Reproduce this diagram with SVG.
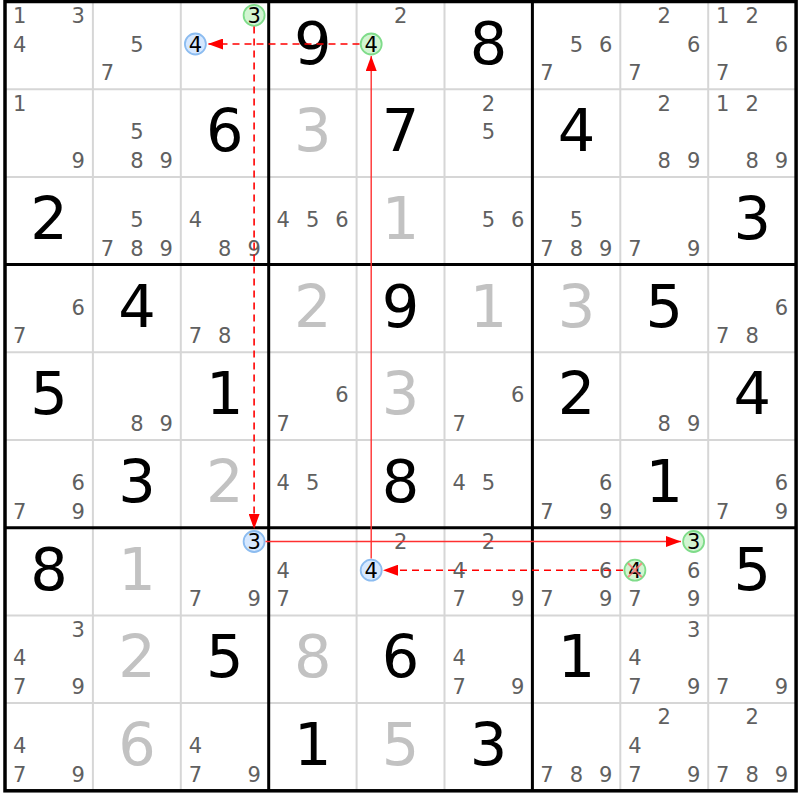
<svg xmlns="http://www.w3.org/2000/svg" width="800" height="800" viewBox="0 0 800 800">
<style>
text{font-family:"DejaVu Sans","Liberation Sans",sans-serif;text-anchor:middle}
.c{font-size:21px;fill:#606060}
.h{font-size:21px;fill:#000}
.g{font-size:59px;fill:#000}
.s{font-size:59px;fill:#c2c2c2}
.thin{stroke:#d6d6d6;stroke-width:2}
.thick{stroke:#000;stroke-width:3}
.hg{fill:#d2f5d2;stroke:#7fdc8a;stroke-width:1.8}
.hb{fill:#d6e8ff;stroke:#8cbcf0;stroke-width:1.8}
.x{stroke:#ff6b6b;stroke-width:2;stroke-opacity:0.75}
.dash{stroke:#ff0000;stroke-width:1.6;stroke-dasharray:7 5;fill:none}
.sol{stroke:#ff3030;stroke-width:1.4;fill:none}
</style>
<defs>
<marker id="ah" markerUnits="userSpaceOnUse" markerWidth="15" markerHeight="11" refX="15" refY="5.5" orient="auto">
<path d="M0,0 L15,5.5 L0,11 z" fill="#ff0000"/>
</marker>
</defs>
<rect width="800" height="800" fill="#fff"/>
<g id="grid">
<path class="thin" d="M92.9,1.5V790.8M180.8,1.5V790.8M356.6,1.5V790.8M444.5,1.5V790.8M620.3,1.5V790.8M708.2,1.5V790.8M5,89.2H796.1M5,176.9H796.1M5,352.3H796.1M5,440H796.1M5,615.4H796.1M5,703.1H796.1"/>
<path class="thick" d="M268.7,1.5V790.8M532.4,1.5V790.8M5,264.6H796.1M5,527.7H796.1"/>
<rect x="5" y="1.5" width="791.1" height="789.3" fill="none" stroke="#000" stroke-width="3.5"/>
</g>
<g id="r1c1"><text class="c" x="19.6" y="22.8">1</text><text class="c" x="78.3" y="22.8">3</text><text class="c" x="19.6" y="51.5">4</text></g>
<g id="r1c2"><text class="c" x="136.9" y="51.5">5</text><text class="c" x="107.5" y="80.2">7</text></g>
<g id="r1c3"><circle class="hg" cx="254.1" cy="15.3" r="10.5"/><circle class="hb" cx="195.4" cy="44" r="10.5"/><text class="h" x="254.1" y="22.8">3</text><text class="h" x="195.4" y="51.5">4</text></g>
<g id="r1c4"><text class="g" x="312.7" y="63.5">9</text></g>
<g id="r1c5"><circle class="hg" cx="371.2" cy="44" r="10.5"/><text class="c" x="400.6" y="22.8">2</text><text class="h" x="371.2" y="51.5">4</text></g>
<g id="r1c6"><text class="g" x="488.5" y="63.5">8</text></g>
<g id="r1c7"><text class="c" x="576.4" y="51.5">5</text><text class="c" x="605.7" y="51.5">6</text><text class="c" x="547" y="80.2">7</text></g>
<g id="r1c8"><text class="c" x="664.3" y="22.8">2</text><text class="c" x="693.6" y="51.5">6</text><text class="c" x="634.9" y="80.2">7</text></g>
<g id="r1c9"><text class="c" x="722.8" y="22.8">1</text><text class="c" x="752.2" y="22.8">2</text><text class="c" x="781.5" y="51.5">6</text><text class="c" x="722.8" y="80.2">7</text></g>

<g id="r2c1"><text class="c" x="19.6" y="110.5">1</text><text class="c" x="78.3" y="167.9">9</text></g>
<g id="r2c2"><text class="c" x="136.9" y="139.2">5</text><text class="c" x="136.9" y="167.9">8</text><text class="c" x="166.2" y="167.9">9</text></g>
<g id="r2c3"><text class="g" x="224.8" y="151.2">6</text></g>
<g id="r2c4"><text class="s" x="312.7" y="151.2">3</text></g>
<g id="r2c5"><text class="g" x="400.6" y="151.2">7</text></g>
<g id="r2c6"><text class="c" x="488.5" y="110.5">2</text><text class="c" x="488.5" y="139.2">5</text></g>
<g id="r2c7"><text class="g" x="576.4" y="151.2">4</text></g>
<g id="r2c8"><text class="c" x="664.3" y="110.5">2</text><text class="c" x="664.3" y="167.9">8</text><text class="c" x="693.6" y="167.9">9</text></g>
<g id="r2c9"><text class="c" x="722.8" y="110.5">1</text><text class="c" x="752.2" y="110.5">2</text><text class="c" x="752.2" y="167.9">8</text><text class="c" x="781.5" y="167.9">9</text></g>

<g id="r3c1"><text class="g" x="49" y="238.9">2</text></g>
<g id="r3c2"><text class="c" x="136.9" y="226.9">5</text><text class="c" x="107.5" y="255.6">7</text><text class="c" x="136.9" y="255.6">8</text><text class="c" x="166.2" y="255.6">9</text></g>
<g id="r3c3"><text class="c" x="195.4" y="226.9">4</text><text class="c" x="224.8" y="255.6">8</text><text class="c" x="254.1" y="255.6">9</text></g>
<g id="r3c4"><text class="c" x="283.3" y="226.9">4</text><text class="c" x="312.7" y="226.9">5</text><text class="c" x="342" y="226.9">6</text></g>
<g id="r3c5"><text class="s" x="400.6" y="238.9">1</text></g>
<g id="r3c6"><text class="c" x="488.5" y="226.9">5</text><text class="c" x="517.8" y="226.9">6</text></g>
<g id="r3c7"><text class="c" x="576.4" y="226.9">5</text><text class="c" x="547" y="255.6">7</text><text class="c" x="576.4" y="255.6">8</text><text class="c" x="605.7" y="255.6">9</text></g>
<g id="r3c8"><text class="c" x="634.9" y="255.6">7</text><text class="c" x="693.6" y="255.6">9</text></g>
<g id="r3c9"><text class="g" x="752.2" y="238.9">3</text></g>

<g id="r4c1"><text class="c" x="78.3" y="314.6">6</text><text class="c" x="19.6" y="343.3">7</text></g>
<g id="r4c2"><text class="g" x="136.9" y="326.6">4</text></g>
<g id="r4c3"><text class="c" x="195.4" y="343.3">7</text><text class="c" x="224.8" y="343.3">8</text></g>
<g id="r4c4"><text class="s" x="312.7" y="326.6">2</text></g>
<g id="r4c5"><text class="g" x="400.6" y="326.6">9</text></g>
<g id="r4c6"><text class="s" x="488.5" y="326.6">1</text></g>
<g id="r4c7"><text class="s" x="576.4" y="326.6">3</text></g>
<g id="r4c8"><text class="g" x="664.3" y="326.6">5</text></g>
<g id="r4c9"><text class="c" x="781.5" y="314.6">6</text><text class="c" x="722.8" y="343.3">7</text><text class="c" x="752.2" y="343.3">8</text></g>

<g id="r5c1"><text class="g" x="49" y="414.3">5</text></g>
<g id="r5c2"><text class="c" x="136.9" y="431">8</text><text class="c" x="166.2" y="431">9</text></g>
<g id="r5c3"><text class="g" x="224.8" y="414.3">1</text></g>
<g id="r5c4"><text class="c" x="342" y="402.3">6</text><text class="c" x="283.3" y="431">7</text></g>
<g id="r5c5"><text class="s" x="400.6" y="414.3">3</text></g>
<g id="r5c6"><text class="c" x="517.8" y="402.3">6</text><text class="c" x="459.1" y="431">7</text></g>
<g id="r5c7"><text class="g" x="576.4" y="414.3">2</text></g>
<g id="r5c8"><text class="c" x="664.3" y="431">8</text><text class="c" x="693.6" y="431">9</text></g>
<g id="r5c9"><text class="g" x="752.2" y="414.3">4</text></g>

<g id="r6c1"><text class="c" x="78.3" y="490">6</text><text class="c" x="19.6" y="518.7">7</text><text class="c" x="78.3" y="518.7">9</text></g>
<g id="r6c2"><text class="g" x="136.9" y="502">3</text></g>
<g id="r6c3"><text class="s" x="224.8" y="502">2</text></g>
<g id="r6c4"><text class="c" x="283.3" y="490">4</text><text class="c" x="312.7" y="490">5</text></g>
<g id="r6c5"><text class="g" x="400.6" y="502">8</text></g>
<g id="r6c6"><text class="c" x="459.1" y="490">4</text><text class="c" x="488.5" y="490">5</text></g>
<g id="r6c7"><text class="c" x="605.7" y="490">6</text><text class="c" x="547" y="518.7">7</text><text class="c" x="605.7" y="518.7">9</text></g>
<g id="r6c8"><text class="g" x="664.3" y="502">1</text></g>
<g id="r6c9"><text class="c" x="781.5" y="490">6</text><text class="c" x="722.8" y="518.7">7</text><text class="c" x="781.5" y="518.7">9</text></g>

<g id="r7c1"><text class="g" x="49" y="589.7">8</text></g>
<g id="r7c2"><text class="s" x="136.9" y="589.7">1</text></g>
<g id="r7c3"><circle class="hb" cx="254.1" cy="541.5" r="10.5"/><text class="h" x="254.1" y="549">3</text><text class="c" x="195.4" y="606.4">7</text><text class="c" x="254.1" y="606.4">9</text></g>
<g id="r7c4"><text class="c" x="283.3" y="577.7">4</text><text class="c" x="283.3" y="606.4">7</text></g>
<g id="r7c5"><circle class="hb" cx="371.2" cy="570.2" r="10.5"/><text class="c" x="400.6" y="549">2</text><text class="h" x="371.2" y="577.7">4</text></g>
<g id="r7c6"><text class="c" x="488.5" y="549">2</text><text class="c" x="459.1" y="577.7">4</text><text class="c" x="459.1" y="606.4">7</text><text class="c" x="517.8" y="606.4">9</text></g>
<g id="r7c7"><text class="c" x="605.7" y="577.7">6</text><text class="c" x="547" y="606.4">7</text><text class="c" x="605.7" y="606.4">9</text></g>
<g id="r7c8"><circle class="hg" cx="693.6" cy="541.5" r="10.5"/><circle class="hg" cx="634.9" cy="570.2" r="10.5"/><text class="h" x="693.6" y="549">3</text><text class="h" x="634.9" y="577.7">4</text><text class="c" x="693.6" y="577.7">6</text><text class="c" x="634.9" y="606.4">7</text><text class="c" x="693.6" y="606.4">9</text><path class="x" d="M628,563.3L641.8,577.1M628,577.1L641.8,563.3"/></g>
<g id="r7c9"><text class="g" x="752.2" y="589.7">5</text></g>

<g id="r8c1"><text class="c" x="78.3" y="636.7">3</text><text class="c" x="19.6" y="665.4">4</text><text class="c" x="19.6" y="694.1">7</text><text class="c" x="78.3" y="694.1">9</text></g>
<g id="r8c2"><text class="s" x="136.9" y="677.4">2</text></g>
<g id="r8c3"><text class="g" x="224.8" y="677.4">5</text></g>
<g id="r8c4"><text class="s" x="312.7" y="677.4">8</text></g>
<g id="r8c5"><text class="g" x="400.6" y="677.4">6</text></g>
<g id="r8c6"><text class="c" x="459.1" y="665.4">4</text><text class="c" x="459.1" y="694.1">7</text><text class="c" x="517.8" y="694.1">9</text></g>
<g id="r8c7"><text class="g" x="576.4" y="677.4">1</text></g>
<g id="r8c8"><text class="c" x="693.6" y="636.7">3</text><text class="c" x="634.9" y="665.4">4</text><text class="c" x="634.9" y="694.1">7</text><text class="c" x="693.6" y="694.1">9</text></g>
<g id="r8c9"><text class="c" x="722.8" y="694.1">7</text><text class="c" x="781.5" y="694.1">9</text></g>

<g id="r9c1"><text class="c" x="19.6" y="753.1">4</text><text class="c" x="19.6" y="781.8">7</text><text class="c" x="78.3" y="781.8">9</text></g>
<g id="r9c2"><text class="s" x="136.9" y="765.1">6</text></g>
<g id="r9c3"><text class="c" x="195.4" y="753.1">4</text><text class="c" x="195.4" y="781.8">7</text><text class="c" x="254.1" y="781.8">9</text></g>
<g id="r9c4"><text class="g" x="312.7" y="765.1">1</text></g>
<g id="r9c5"><text class="s" x="400.6" y="765.1">5</text></g>
<g id="r9c6"><text class="g" x="488.5" y="765.1">3</text></g>
<g id="r9c7"><text class="c" x="547" y="781.8">7</text><text class="c" x="576.4" y="781.8">8</text><text class="c" x="605.7" y="781.8">9</text></g>
<g id="r9c8"><text class="c" x="664.3" y="724.4">2</text><text class="c" x="634.9" y="753.1">4</text><text class="c" x="634.9" y="781.8">7</text><text class="c" x="693.6" y="781.8">9</text></g>
<g id="r9c9"><text class="c" x="752.2" y="724.4">2</text><text class="c" x="722.8" y="781.8">7</text><text class="c" x="752.2" y="781.8">8</text><text class="c" x="781.5" y="781.8">9</text></g>

<g id="connectors">
<path class="dash" d="M359.5,44H208" marker-end="url(#ah)"/>
<path class="dash" d="M254.1,26.5V529" marker-end="url(#ah)"/>
<path class="sol" d="M265.5,541.5H681" marker-end="url(#ah)"/>
<path class="dash" d="M623,570.2H383" marker-end="url(#ah)"/>
<path class="sol" d="M371.2,558.5V56" marker-end="url(#ah)"/>
</g>
</svg>
